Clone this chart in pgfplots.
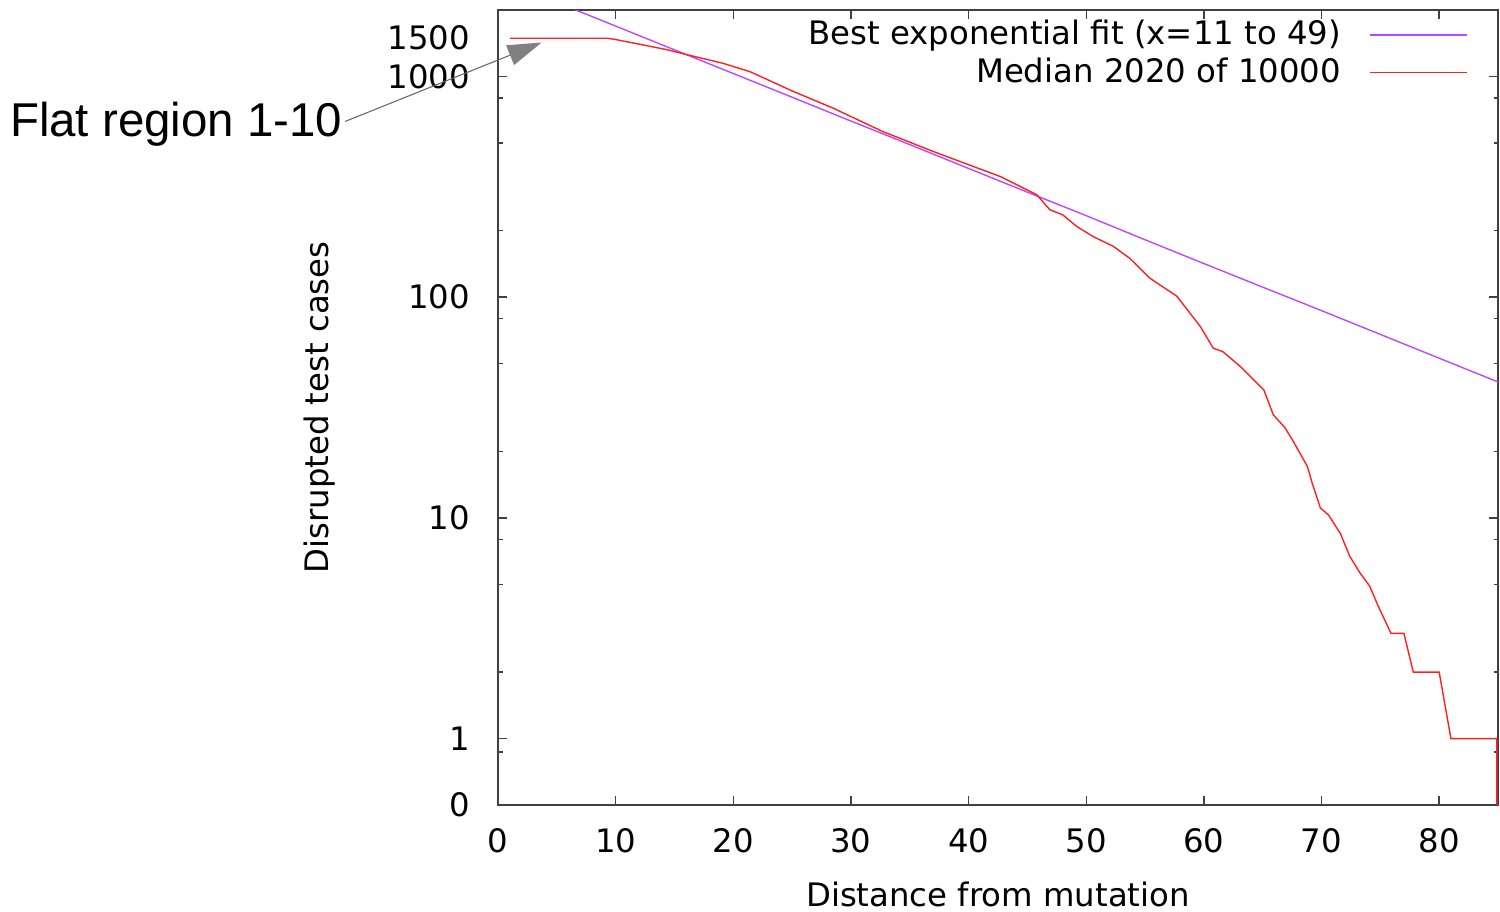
\documentclass[border=0pt]{standalone}
\usepackage{fontspec}
\setmainfont{DejaVu Sans}
\newfontfamily\arialfont{Liberation Sans}
\usepackage{pgfplots}
\pgfplotsset{compat=1.18}
\usetikzlibrary{arrows.meta}
\definecolor{fitviolet}{HTML}{BC48FF}
\definecolor{medred}{HTML}{FF2020}
\definecolor{axisgray}{HTML}{404040}

\begin{document}
\begin{tikzpicture}[font=\fontsize{9.2}{11}\selectfont]
\begin{axis}[
  scale only axis, width=10cm, height=7.95cm,
  ymode=log,
  xmin=0, xmax=85, ymin=0.5, ymax=2000,
  xtick={0,10,...,80},
  ytick={0.5,1,10,100,1000},
  yticklabels={0,1,10,100,1000},
  extra y ticks={1500}, extra y tick labels={1500},
  extra y tick style={major tick length=0pt},
  minor ytick={0.87,2,5,8,20,50,80,200,500,800},
  major tick length=0.9mm, minor tick length=0.45mm,
  tick style={axisgray, line width=0.4pt},
  axis line style={axisgray, line width=0.5pt},
  /pgf/number format/assume math mode=true,
  xticklabel style={yshift=-3.2pt},
  yticklabel style={xshift=-4.5pt},
  xlabel={Distance from mutation},
  ylabel={Disrupted test cases},
  xlabel style={at={(rel axis cs:0.5,-0.113)}, anchor=center},
  ylabel style={at={(rel axis cs:-0.178,0.5)}, anchor=center},
  legend plot pos=right, legend cell align=right,
  legend style={draw=none, fill=none, at={(rel axis cs:0.9705,0.993)}, anchor=north east,
    inner sep=0pt, column sep=7pt, row sep=0pt, nodes={inner sep=1.1pt}},
]
\addplot[fitviolet, line width=0.4pt,
  legend image code/.code={\draw[fitviolet, line width=0.4pt] (0cm,0cm) -- (0.97cm,0cm);}]
  coordinates {
  (5,2166)(10,1691)(15,1320)(20,1031)(25,805)(30,628)(35,491)(40,383)(45,299)
  (50,234)(55,182)(60,142)(65,111)(70,86.9)(75,67.8)(80,52.9)(85,41.3)};
\addlegendentry{Best exponential fit (x=11 to 49)}
\addplot[medred, line width=0.4pt,
  legend image code/.code={\draw[medred, line width=0.4pt] (0cm,0cm) -- (0.97cm,0cm);}]
  coordinates {
  (1,1490)(9.3,1490)(10,1470)(12.3,1390)(14.4,1321)(16.1,1253)(19.1,1148)(21.4,1052)
  (25.1,855)(28.5,718)(32.7,563)(37,457)(42.7,352)(45.8,291)(46.9,249)(48,236)
  (49.2,209)(50.6,188)(52.3,170)(53.7,150)(55.4,122)(57.7,101)(58.6,87.6)(59.7,73.6)
  (60.8,58.7)(61.6,56.7)(63.1,48.5)(65.1,38)(65.9,29.3)(66.9,25.6)(67.6,22.2)
  (68.8,17.1)(69.2,14.4)(69.9,11.1)(70.6,10.3)(71.6,8.5)(72.4,6.7)(73.3,5.6)
  (74.1,4.9)(74.8,4.0)(75.9,3)(77,3)(77.8,2)(80,2)(81,1)(84.9,1)(84.9,0.5)};
\addlegendentry{Median 2020 of 10000}
\coordinate (SW) at (rel axis cs:0,0);
\coordinate (NE) at (rel axis cs:1,1);
\coordinate (tip) at (axis cs:3.71,1425);
\coordinate (tail) at (axis cs:-13.0,625);
\coordinate (txt) at (axis cs:-13.17,532);
\end{axis}
\draw[gray!80!black, line width=0.3pt, -{Triangle[length=3.4mm,width=2.1mm,color=gray]}] (tail) -- (tip);
\node[anchor=base east, inner sep=0pt, font=\arialfont\fontsize{13.5}{16}\selectfont] at (txt) {Flat region 1-10};
\pgfresetboundingbox
\path ([shift={(-4.98cm,-1.06cm)}]SW) rectangle ([shift={(0.02cm,0.10cm)}]NE);
\end{tikzpicture}
\end{document}
